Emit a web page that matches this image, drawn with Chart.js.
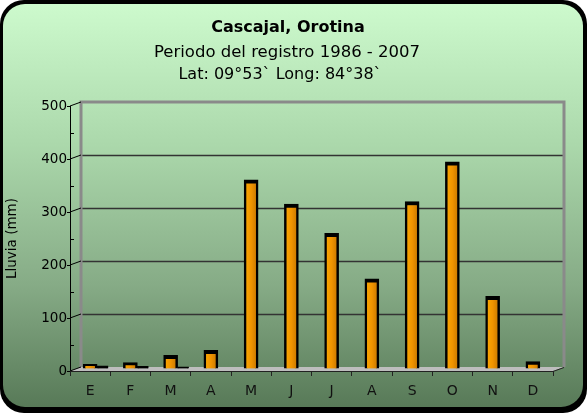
<!DOCTYPE html>
<html>
<head>
<meta charset="utf-8">
<script src="https://cdn.jsdelivr.net/npm/chart.js@4"></script>
<style>
html,body{margin:0;padding:0;background:#fff;}
#wrap{width:587px;height:413px;position:relative;}
</style>
</head>
<body>
<div id="wrap"><canvas id="c" width="587" height="413"></canvas></div>
<script>
// ---- data ----
const months = ['E','F','M','A','M','J','J','A','S','O','N','D'];
const rainfall = [9, 12, 26, 35, 357, 311, 256, 170, 316, 391, 137, 14];
const backSeries = [6, 5, 4, null, null, null, null, null, null, null, null, null];
const yTicks = [0, 100, 200, 300, 400, 500];
const titleText = 'Cascajal, Orotina';
const subtitleLines = ['Periodo del registro 1986 - 2007', 'Lat: 09°53` Long: 84°38`'];
const yAxisTitle = 'Lluvia (mm)';

const FONT = '"DejaVu Sans", Verdana, sans-serif';
const DX = 11, DY = -4;

const bgPlugin = {
  id: 'bg',
  beforeDraw(chart) {
    const ctx = chart.ctx;
    ctx.save();
    ctx.fillStyle = '#fff';
    ctx.fillRect(0, 0, 587, 413);
    ctx.fillStyle = '#000';
    ctx.beginPath();
    ctx.roundRect(0, 0, 587, 413, 24);
    ctx.fill();
    const g = ctx.createLinearGradient(0, 4, 0, 406);
    g.addColorStop(0, '#cdfacd');
    g.addColorStop(0.35, '#abd8ab');
    g.addColorStop(0.7, '#86ab86');
    g.addColorStop(1, '#587a58');
    ctx.fillStyle = g;
    ctx.beginPath();
    ctx.roundRect(3, 4, 580, 403, 22);
    ctx.fill();
    // titles
    ctx.fillStyle = '#000';
    ctx.textAlign = 'center';
    ctx.textBaseline = 'middle';
    ctx.font = 'bold 16px ' + FONT;
    ctx.fillText(titleText, 288, 28);
    ctx.font = '16.5px ' + FONT;
    ctx.fillText(subtitleLines[0], 287, 53);
    ctx.font = '16px ' + FONT;
    ctx.fillText(subtitleLines[1], 280, 75);
    ctx.restore();
  }
};

const framePlugin = {
  id: 'frame',
  beforeDatasetsDraw(chart) {
    const ctx = chart.ctx;
    const y = chart.scales.y, x = chart.scales.x;
    const L = x.left, R = x.right;
    const y0 = y.getPixelForValue(0), yTop = y.getPixelForValue(500);
    ctx.save();
    // floor
    ctx.fillStyle = '#bdbdbd';
    ctx.beginPath();
    ctx.moveTo(L, y0); ctx.lineTo(R, y0); ctx.lineTo(R + DX, y0 + DY); ctx.lineTo(L + DX, y0 + DY);
    ctx.closePath(); ctx.fill();
    // back gridlines
    ctx.strokeStyle = '#333';
    ctx.lineWidth = 1.5;
    yTicks.forEach(v => {
      if (v === 0 || v === 500) return;
      const py = Math.round(y.getPixelForValue(v) + DY) + 0.5;
      ctx.beginPath(); ctx.moveTo(L + DX, py); ctx.lineTo(R + DX, py); ctx.stroke();
    });
    // back wall frame
    ctx.strokeStyle = '#8a8a8a';
    ctx.lineWidth = 3;
    ctx.beginPath();
    ctx.moveTo(L + DX, y0 + DY); ctx.lineTo(L + DX, yTop + DY);
    ctx.lineTo(R + DX, yTop + DY); ctx.lineTo(R + DX, y0 + DY);
    ctx.stroke();
    // diagonals from axis ticks to wall
    ctx.strokeStyle = '#000';
    ctx.lineWidth = 1;
    yTicks.forEach(v => {
      const py = y.getPixelForValue(v);
      ctx.beginPath(); ctx.moveTo(L, py); ctx.lineTo(L + DX, py + DY); ctx.stroke();
    });
    // minor ticks
    for (let v = 50; v < 500; v += 100) {
      const py = Math.round(y.getPixelForValue(v)) + 0.5;
      ctx.beginPath(); ctx.moveTo(L, py); ctx.lineTo(L + 4, py); ctx.stroke();
    }
    // floor front edge
    ctx.strokeStyle = '#222';
    ctx.lineWidth = 1;
    ctx.beginPath();
    ctx.moveTo(L, y0 + 0.5); ctx.lineTo(R, y0 + 0.5); ctx.lineTo(R + DX, y0 + DY + 0.5);
    ctx.stroke();
    ctx.restore();
    // bars sit at mid depth
    ctx.save();
    ctx.translate(0, DY / 2);
  },
  afterDatasetsDraw(chart) {
    chart.ctx.restore();
  }
};

const backPoints = [];
backSeries.forEach((v, i) => { if (v !== null) backPoints.push({x: i, y: v}); });

function barFill(c) {
  const chart = c.chart;
  const xs = chart.scales && chart.scales.x;
  if (!chart.chartArea || !xs || c.dataIndex === undefined) return '#f29400';
  const px = xs.getPixelForValue(c.dataIndex);
  const g = chart.ctx.createLinearGradient(px - 6, 0, px + 6, 0);
  g.addColorStop(0, '#fba800');
  g.addColorStop(0.5, '#f09400');
  g.addColorStop(1, '#c87800');
  return g;
}

new Chart(document.getElementById('c'), {
  type: 'bar',
  data: {
    labels: months,
    datasets: [
      {
        data: backPoints,
        xAxisID: 'x2',
        backgroundColor: '#000',
        borderColor: '#000',
        borderWidth: 1,
        barThickness: 11,
        grouped: false,
        order: 2
      },
      {
        data: rainfall,
        xAxisID: 'x',
        backgroundColor: barFill,
        borderColor: '#000',
        borderWidth: {top: 4, left: 2.5, right: 2.5, bottom: 0},
        borderSkipped: 'bottom',
        barThickness: 14,
        grouped: false,
        order: 1
      }
    ]
  },
  options: {
    responsive: false,
    animation: false,
    devicePixelRatio: 1,
    layout: {padding: {top: 106, right: 34, bottom: 12, left: 0}},
    plugins: {legend: {display: false}, title: {display: false}, tooltip: {enabled: false}},
    scales: {
      x: {
        type: 'category',
        offset: true,
        grid: {display: true, drawOnChartArea: false, offset: true, tickLength: 5, color: '#222'},
        border: {display: false},
        ticks: {color: '#111', font: {family: FONT, size: 14}, padding: 7, maxRotation: 0},
        afterFit(s) { s.height = 30; }
      },
      x2: {
        type: 'linear',
        display: false,
        min: -0.5 - 0.31,
        max: 11.5 - 0.31,
        offset: false
      },
      y: {
        min: 0, max: 500,
        ticks: {stepSize: 100, color: '#000', font: {family: FONT, size: 13.5}, padding: 0},
        grid: {drawOnChartArea: false, tickLength: 3, color: '#000'},
        border: {display: true, color: '#000', width: 1},
        title: {display: true, text: yAxisTitle, color: '#000', font: {family: FONT, size: 13.5}, padding: {top: 4, bottom: 0}},
        afterFit(s) { s.width = 70; }
      }
    }
  },
  plugins: [bgPlugin, framePlugin]
});
</script>
</body>
</html>
